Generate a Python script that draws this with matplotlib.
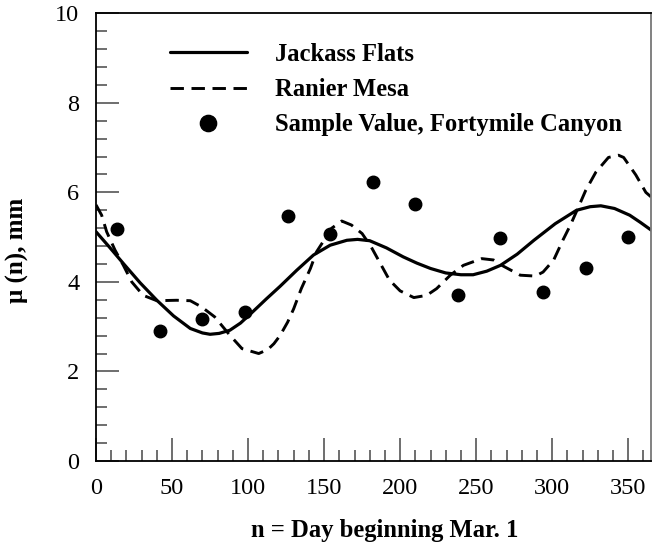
import matplotlib
matplotlib.use("Agg")
import matplotlib.pyplot as plt
from matplotlib.ticker import MultipleLocator

plt.rcParams['font.family'] = ['Liberation Serif', 'DejaVu Serif']

# Jackass Flats mean curve
jackass_day = [0, 9, 18, 29, 40, 51, 62, 70, 75, 81, 88, 95, 103, 112, 121, 132,
               143, 154, 165, 172, 180, 191, 202, 211, 220, 230, 240, 248, 257,
               266, 277, 288, 302, 316, 325, 332, 341, 351, 358, 365]
jackass_mu = [5.12, 4.77, 4.41, 3.98, 3.59, 3.24, 2.96, 2.86, 2.83, 2.85, 2.92,
              3.08, 3.33, 3.62, 3.90, 4.26, 4.60, 4.82, 4.93, 4.95, 4.92, 4.76,
              4.56, 4.42, 4.30, 4.20, 4.16, 4.16, 4.24, 4.37, 4.62, 4.93, 5.30,
              5.60, 5.68, 5.70, 5.64, 5.49, 5.33, 5.16]

# Ranier Mesa mean curve
ranier_day = [0, 3.7, 7, 12.5, 18, 23.5, 31, 40, 53, 62, 69.5, 78, 88, 96, 107,
              113, 117, 121, 126, 130, 135, 141, 145, 150.7, 155, 161.6, 168,
              175, 181, 187, 193, 200, 209, 217.5, 224, 233, 241.6, 253.7, 261.4,
              268, 279, 289, 294, 301, 307, 312, 317, 322, 328.7, 337, 343.6,
              347, 355, 361.6, 365]
ranier_mu = [5.72, 5.49, 5.12, 4.71, 4.37, 4.00, 3.70, 3.58, 3.59, 3.58, 3.44,
             3.22, 2.81, 2.51, 2.40, 2.49, 2.62, 2.80, 3.10, 3.40, 3.85, 4.30,
             4.67, 4.97, 5.20, 5.36, 5.27, 5.08, 4.78, 4.41, 4.04, 3.80, 3.65,
             3.70, 3.85, 4.15, 4.37, 4.52, 4.49, 4.35, 4.15, 4.13, 4.22, 4.49,
             4.93, 5.27, 5.65, 6.04, 6.45, 6.78, 6.83, 6.78, 6.39, 6.00, 5.90]

# Fortymile Canyon sample values
sample_day = [14, 42, 70, 98, 126, 154, 182, 210, 238, 266, 294, 322, 350]
sample_mu = [5.19, 2.90, 3.17, 3.32, 5.48, 5.07, 6.24, 5.73, 3.70, 4.98, 3.78,
             4.30, 5.01]

x_ticks = [0, 50, 100, 150, 200, 250, 300, 350]
y_ticks = [0, 2, 4, 6, 8, 10]

fig = plt.figure(figsize=(6.55, 5.54), dpi=100)
ax = fig.add_axes([0.1466, 0.1679, 0.8473, 0.8081])

ax.plot(jackass_day, jackass_mu, color='black', lw=2.3,
        solid_capstyle='round', label='Jackass Flats')
ax.plot(ranier_day, ranier_mu, color='black', lw=2.1, linestyle=(0, (4.6, 2.6)),
        label='Ranier Mesa')
ax.plot(sample_day, sample_mu, linestyle='none', marker='o', color='black',
        markersize=9, label='Sample Value, Fortymile Canyon')

ax.set_xlim(0, 365)
ax.set_ylim(0, 10)
ax.set_xticks(x_ticks)
ax.set_yticks(y_ticks)
ax.xaxis.set_minor_locator(MultipleLocator(10))
ax.yaxis.set_minor_locator(MultipleLocator(0.4))
ax.tick_params(which='both', direction='in', top=False, right=False,
               color='#555555', width=1.2, labelsize=17.5, pad=12)
ax.tick_params(which='major', length=16.5)
ax.tick_params(which='minor', length=8)

for side in ('left', 'bottom', 'top'):
    ax.spines[side].set_color('black')
    ax.spines[side].set_linewidth(1.3)
ax.spines['right'].set_color('#777777')
ax.spines['right'].set_linewidth(1.3)

ax.set_xlabel('n = Day beginning Mar. 1', fontsize=17.7, fontweight='bold')
ax.set_ylabel('μ (n), mm', fontsize=18, fontweight='bold')
ax.xaxis.set_label_coords(0.52, -0.13)
ax.yaxis.set_label_coords(-0.12, 0.47)

ax.legend(loc='upper left', bbox_to_anchor=(0.133, 0.934), frameon=False,
          borderpad=0, borderaxespad=0, handlelength=3.13, handletextpad=1.14,
          labelspacing=0.5, markerscale=1.3,
          prop={'size': 17.7, 'weight': 'bold'})

fig.savefig('out.png', dpi=100)
